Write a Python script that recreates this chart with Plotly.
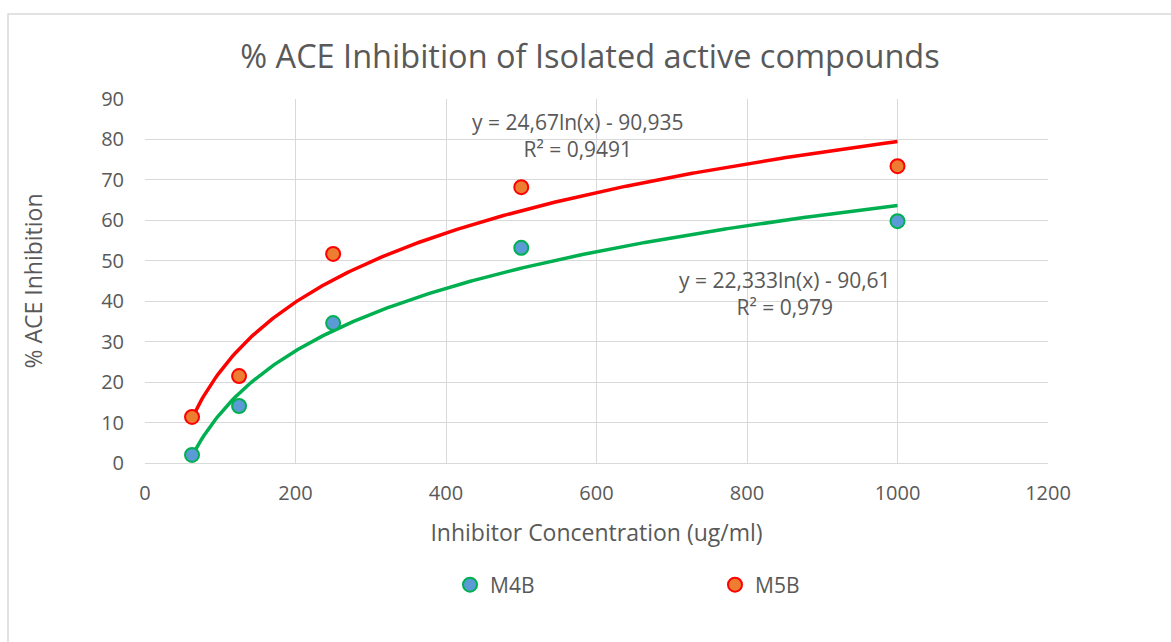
import numpy as np
import plotly.graph_objects as go

# ---- data ----
concentration = [62.5, 125, 250, 500, 1000]
m4b = [2.0, 14.1, 34.6, 53.2, 59.8]
m5b = [11.4, 21.5, 51.7, 68.2, 73.4]

# logarithmic trendline coefficients as printed on the chart (y = a ln(x) + b)
m4b_fit = (22.333, -90.61)
m5b_fit = (24.67, -90.935)
m4b_r2 = "0,979"
m5b_r2 = "0,9491"

x_ticks = [0, 200, 400, 600, 800, 1000, 1200]
y_ticks = [0, 10, 20, 30, 40, 50, 60, 70, 80, 90]

TXT = "#595959"
GRID = "#d9d9d9"
FONT = "Open Sans"

xs = np.linspace(min(concentration), max(concentration), 300)

fig = go.Figure()
fig.add_trace(go.Scatter(
    x=xs, y=m4b_fit[0] * np.log(xs) + m4b_fit[1], mode="lines",
    line=dict(color="#00b050", width=3.5), showlegend=False, hoverinfo="skip"))
fig.add_trace(go.Scatter(
    x=xs, y=m5b_fit[0] * np.log(xs) + m5b_fit[1], mode="lines",
    line=dict(color="#ff0000", width=3.5), showlegend=False, hoverinfo="skip"))
fig.add_trace(go.Scatter(
    x=concentration, y=m4b, mode="markers", name="M4B",
    marker=dict(size=14, color="#5b9bd5", line=dict(color="#00b050", width=2))))
fig.add_trace(go.Scatter(
    x=concentration, y=m5b, mode="markers", name="M5B",
    marker=dict(size=14, color="#ed7d31", line=dict(color="#ff0000", width=2))))

fig.add_annotation(x=(578 - 145) / 903, y=(463 - 135) / 364, xref="paper", yref="paper",
                   xanchor="center", yanchor="middle",
                   text="y = 24,67ln(x) - 90,935<br>R² = " + m5b_r2,
                   showarrow=False, align="center",
                   font=dict(size=21, color=TXT, family=FONT))
fig.add_annotation(x=(785 - 145) / 903, y=(463 - 293) / 364, xref="paper", yref="paper",
                   xanchor="center", yanchor="middle",
                   text="y = 22,333ln(x) - 90,61<br>R² = " + m4b_r2,
                   showarrow=False, align="center",
                   font=dict(size=21, color=TXT, family=FONT))

# chart border
fig.add_shape(type="rect", xref="paper", yref="paper",
              x0=(8 - 145) / 903, x1=(1200 - 145) / 903,
              y0=(463 - 700) / 364, y1=(463 - 14) / 364,
              line=dict(color="#d9d9d9", width=1.5), layer="below")

fig.update_layout(
    width=1171, height=642,
    margin=dict(l=145, r=123, t=99, b=179),
    paper_bgcolor="white", plot_bgcolor="white",
    font=dict(family=FONT, color=TXT, size=20),
    title=dict(text="% ACE Inhibition of Isolated active compounds",
               x=(590) / 1171, xanchor="center", y=1 - 57 / 642, yanchor="middle",
               font=dict(size=32.5, color=TXT, family=FONT)),
    xaxis=dict(range=[0, 1200], tickvals=x_ticks, showgrid=True, gridcolor=GRID,
               gridwidth=1, zeroline=False, showline=True, linecolor=GRID,
               mirror=False, ticks="outside", ticklen=12, tickcolor="rgba(0,0,0,0)",
               tickfont=dict(size=20, color=TXT),
               title=dict(text="Inhibitor Concentration (ug/ml)", standoff=19,
                          font=dict(size=23, color=TXT))),
    yaxis=dict(range=[0, 90], tickvals=y_ticks, showgrid=True, gridcolor=GRID,
               gridwidth=1, zeroline=False, showline=False,
               ticks="outside", ticklen=16, tickcolor="rgba(0,0,0,0)",
               tickfont=dict(size=20, color=TXT),
               title=dict(text="% ACE Inhibition", standoff=52,
                          font=dict(size=23, color=TXT))),
    legend=dict(orientation="h", x=(450 - 145) / 903, xanchor="left",
                y=(463 - 585) / 364, yanchor="middle",
                entrywidth=220, font=dict(size=21, color=TXT),
                itemwidth=30),
    showlegend=True,
)

fig.write_html("out.html")
